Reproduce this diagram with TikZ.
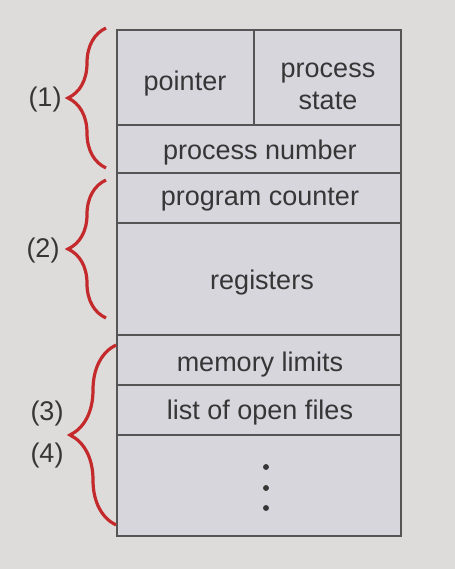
\documentclass[tikz,border=0pt]{standalone}
\usepackage{fontspec}
\setmainfont{Liberation Sans}
\usetikzlibrary{decorations.pathreplacing}

\definecolor{bgcol}{HTML}{DDDCDA}
\definecolor{cellcol}{HTML}{D7D6DD}
\definecolor{linecol}{HTML}{555555}
\definecolor{txtcol}{HTML}{363636}
\definecolor{bracered}{HTML}{C42A2C}

\begin{document}
\begin{tikzpicture}[x=0.5pt,y=-0.5pt,
    cell/.style={fill=cellcol, draw=linecol, line width=1.2pt},
    lbl/.style={text=txtcol, font=\fontsize{13.5}{16}\selectfont, align=center, inner sep=0pt},
    brc/.style={decorate, decoration={brace, amplitude=#1}, draw=bracered, line width=1.6pt}]
        \fill[bgcol] (0,0) rectangle (455,569);
        \useasboundingbox (0,0) rectangle (455,569);
        
        % the block
        \draw[cell] (117,30) rectangle (401,536);
        \draw[linecol, line width=1.2pt] (254,30) -- (254,125);
        \draw[linecol, line width=1.2pt] (117,125) -- (401,125);
        \draw[linecol, line width=1.2pt] (117,173) -- (401,173);
        \draw[linecol, line width=1.2pt] (117,223) -- (401,223);
        \draw[linecol, line width=1.2pt] (117,335) -- (401,335);
        \draw[linecol, line width=1.2pt] (117,385) -- (401,385);
        \draw[linecol, line width=1.2pt] (117,435) -- (401,435);
        
        \node[lbl] (ptr) at (185,84) {pointer};
        \node[lbl] (state) at (328,86) {process\\state};
        \node[lbl] (pnum) at (260,153) {process number};
        \node[lbl] (pc) at (260,200) {program counter};
        \node[lbl] (regs) at (262,283) {registers};
        \node[lbl] (mem) at (260,365) {memory limits};
        \node[lbl] (files) at (260,413) {list of open files};
        
        \filldraw[txtcol] (266,467) circle (2.5);
        \filldraw[txtcol] (266,488) circle (2.5);
        \filldraw[txtcol] (266,508) circle (2.5);
        
        % braces
        \draw[brc=19pt] (106,168) -- (106,28);
        \draw[brc=19pt] (106,318) -- (106,180);
        \draw[brc=23pt] (116,525) -- (116,345);
        
        \node[lbl] (one) at (45,100) {(1)};
        \node[lbl] (two) at (43,251) {(2)};
        \node[lbl] (three) at (47,414) {(3)};
        \node[lbl] (four) at (47,456) {(4)};
      \end{tikzpicture}
\end{document}
